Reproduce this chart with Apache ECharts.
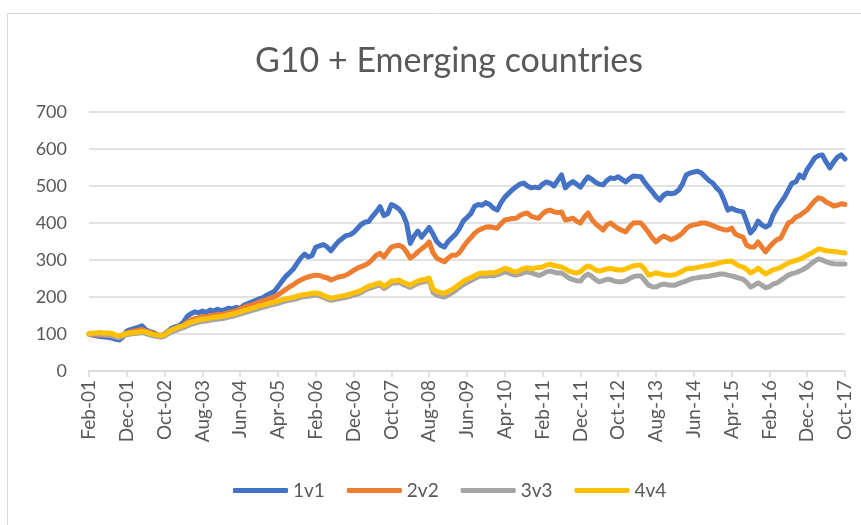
<!DOCTYPE html>
<html>
<head>
<meta charset="utf-8">
<script src="https://cdn.jsdelivr.net/npm/echarts@6/dist/echarts.min.js"></script>
<style>
  html, body { margin: 0; padding: 0; background: #fff; }
  #chart { width: 861px; height: 525px; }
</style>
</head>
<body>
<div id="chart"></div>
<script>
// monthly, Feb-01 .. Oct-17
const startYear = 2001;
const startMonth = 1; // Feb
const monthNames = ["Jan", "Feb", "Mar", "Apr", "May", "Jun", "Jul", "Aug", "Sep", "Oct", "Nov", "Dec"];

const v1v1 = [
  100, 97, 95, 93, 92, 91, 89, 86, 84, 92,
  108, 112, 115, 118, 122, 112, 106, 104, 98, 96,
  100, 108, 116, 120, 123, 132, 148, 155, 160, 157,
  162, 158, 165, 162, 167, 163, 166, 170, 168, 172,
  170, 178, 182, 186, 190, 195, 198, 205, 210, 215,
  228, 242, 255, 265, 275, 290, 305, 316, 308, 312,
  335, 338, 342, 335, 325, 338, 350, 358, 366, 368,
  374, 385, 396, 402, 404, 418, 430, 444, 420, 425,
  450, 445, 438, 425, 400, 345, 365, 378, 362, 375,
  388, 370, 350, 340, 335, 350, 360, 370, 385, 405,
  415, 425, 445, 450, 448, 455, 450, 440, 435, 455,
  470, 480, 490, 498, 505, 508, 500, 495, 497, 495,
  505, 511, 508, 500, 515, 530, 495, 505, 512, 505,
  497, 512, 525, 518, 510, 505, 503, 515, 522, 520,
  525, 518, 511, 520, 527, 526, 525, 510, 497, 485,
  471, 462, 475, 481, 479, 481, 489, 505, 530, 535,
  538, 540, 535, 525, 515, 508, 495, 485, 462, 435,
  440, 435, 432, 430, 403, 373, 385, 405, 395, 389,
  395, 422, 440, 455, 470, 489, 508, 511, 530, 522,
  545, 560, 576, 582, 584, 565, 549, 565, 578, 584,
  573
];

const v2v2 = [
  100, 99, 98, 97, 97, 96, 95, 93, 94, 98,
  103, 106, 108, 110, 112, 108, 104, 102, 97, 95,
  98, 104, 110, 115, 118, 124, 132, 138, 142, 143,
  147, 146, 150, 150, 153, 152, 155, 158, 160, 163,
  168, 172, 176, 178, 182, 186, 190, 193, 197, 200,
  206, 213, 220, 227, 233, 240, 246, 251, 254, 257,
  259, 258, 254, 252, 246, 250, 254, 256, 259, 265,
  272, 278, 282, 286, 292, 302, 313, 318, 308, 322,
  335, 338, 340, 335, 322, 305, 312, 322, 330, 338,
  349, 320, 305, 300, 295, 305, 313, 313, 320, 335,
  349, 360, 372, 380, 385, 389, 390, 388, 386, 398,
  408, 410, 412, 413, 420, 425, 427, 418, 415, 413,
  425, 432, 435, 430, 428, 430, 408, 410, 413, 405,
  400, 415, 427, 410, 398, 390, 381, 395, 400, 392,
  385, 380, 376, 390, 400, 401, 400, 388, 375, 360,
  349, 358, 365, 360, 355, 359, 365, 373, 385, 392,
  395, 397, 400, 400, 397, 393, 389, 385, 382, 381,
  386, 370, 365, 362, 340, 335, 335, 349, 335, 322,
  335, 346, 355, 359, 380, 400, 405, 416, 420, 428,
  435, 448, 460, 468, 465, 457, 452, 446, 448, 452,
  450
];

const v3v3 = [
  100, 101, 100, 99, 98, 97, 96, 92, 90, 94,
  98, 100, 101, 102, 104, 101, 98, 95, 93, 92,
  94, 101, 106, 110, 114, 117, 122, 126, 129, 132,
  134, 135, 137, 139, 140, 141, 143, 146, 148, 151,
  154, 157, 160, 163, 166, 169, 172, 175, 178, 180,
  183, 186, 189, 191, 193, 196, 199, 201, 202, 204,
  205, 203, 199, 194, 191, 193, 195, 197, 199, 202,
  205, 208, 212, 218, 223, 226, 230, 232, 223, 229,
  237, 238, 240, 234, 230, 226, 232, 237, 240, 242,
  245, 212, 205, 202, 200, 205, 211, 218, 226, 233,
  239, 244, 250, 255, 257, 256, 258, 257, 260, 264,
  268, 265, 261, 259, 262, 266, 268, 265, 262, 258,
  262, 268, 270, 267, 265, 265, 258, 251, 247, 244,
  243, 255, 262, 256, 247, 241, 244, 248, 247, 243,
  241, 241, 244, 250, 255, 257, 257, 245, 232, 228,
  227, 232, 235, 233, 232, 232, 236, 240, 243, 248,
  251, 252, 254, 255, 256, 258, 260, 262, 262, 259,
  257, 254, 251, 248, 240, 227, 232, 238, 232, 225,
  228, 235, 238, 245, 252, 259, 263, 266, 270, 275,
  281, 290, 297, 303, 300, 295, 292, 290, 289, 289,
  289
];

const v4v4 = [
  100, 103, 103, 104, 103, 103, 102, 97, 95, 98,
  101, 103, 104, 105, 107, 105, 102, 99, 97, 96,
  98, 106, 112, 116, 120, 122, 128, 132, 135, 138,
  140, 141, 143, 145, 146, 147, 149, 152, 154, 157,
  160, 163, 166, 169, 172, 176, 178, 181, 184, 186,
  189, 192, 195, 197, 199, 202, 205, 207, 208, 210,
  211, 209, 205, 200, 197, 199, 201, 203, 205, 208,
  211, 214, 218, 224, 229, 232, 236, 238, 229, 235,
  243, 244, 246, 240, 236, 232, 238, 243, 246, 248,
  251, 222, 215, 212, 210, 215, 220, 227, 235, 242,
  248, 252, 258, 263, 265, 264, 266, 265, 268, 273,
  278, 275, 270, 268, 272, 277, 279, 276, 278, 280,
  281, 286, 289, 285, 283, 281, 276, 270, 267, 265,
  268, 278, 284, 280, 273, 270, 273, 276, 277, 275,
  273, 273, 276, 280, 284, 286, 286, 275, 259, 262,
  265, 263, 260, 259, 259, 260, 265, 270, 276, 277,
  278, 280, 282, 284, 286, 288, 290, 293, 295, 296,
  297, 290, 284, 281, 275, 265, 270, 278, 270, 262,
  268, 274, 276, 280, 286, 292, 296, 299, 302, 307,
  313, 318, 324, 330, 328, 325, 324, 323, 322, 320,
  319
];

const seriesNames = ["1v1", "2v2", "3v3", "4v4"];
const seriesColors = ["#4472C4", "#ED7D31", "#A5A5A5", "#FFC000"];
const seriesData = [v1v1, v2v2, v3v3, v4v4];

const months = [];
for (let i = 0; i < v1v1.length; i++) {
  const m = (startMonth + i) % 12;
  const y = startYear + Math.floor((startMonth + i) / 12);
  months.push(monthNames[m] + "-" + String(y % 100).padStart(2, "0"));
}

const font = "Lato, 'Open Sans', sans-serif";
const chart = echarts.init(document.getElementById("chart"));

chart.setOption({
  animation: false,
  backgroundColor: "#fff",
  textStyle: { fontFamily: font },
  graphic: [{
    type: "rect",
    shape: { x: 7.5, y: 13.5, width: 900, height: 600 },
    style: { fill: null, stroke: "#d9d9d9", lineWidth: 1 },
    silent: true
  }],
  title: {
    text: "G10 + Emerging countries",
    left: 444,
    textAlign: "center",
    top: 39,
    textStyle: { fontFamily: font, fontSize: 34, fontWeight: "normal", color: "#595959" }
  },
  legend: {
    bottom: 20,
    left: 228,
    itemWidth: 55,
    itemHeight: 5,
    itemGap: 22,
    icon: "roundRect",
    textStyle: { fontFamily: font, fontSize: 19, color: "#595959" },
    data: seriesNames
  },
  grid: { left: 89, right: 16, top: 112, bottom: 154 },
  xAxis: {
    type: "category",
    data: months,
    boundaryGap: false,
    axisLine: { lineStyle: { color: "#d9d9d9", width: 1.5 } },
    axisTick: { interval: 9, length: 6, lineStyle: { color: "#d9d9d9", width: 1.5 } },
    axisLabel: { interval: 9, rotate: 90, fontSize: 19, color: "#595959", fontFamily: font, margin: 9 }
  },
  yAxis: {
    type: "value",
    min: 0,
    max: 700,
    interval: 100,
    axisLine: { show: false },
    axisTick: { show: false },
    axisLabel: { fontSize: 18, color: "#595959", fontFamily: font, margin: 22 },
    splitLine: { lineStyle: { color: "#d9d9d9", width: 1.5 } }
  },
  series: seriesNames.map((name, k) => ({
    name,
    type: "line",
    data: seriesData[k],
    showSymbol: false,
    color: seriesColors[k],
    lineStyle: { width: 5, color: seriesColors[k], cap: "round", join: "round" }
  }))
});
</script>
</body>
</html>
